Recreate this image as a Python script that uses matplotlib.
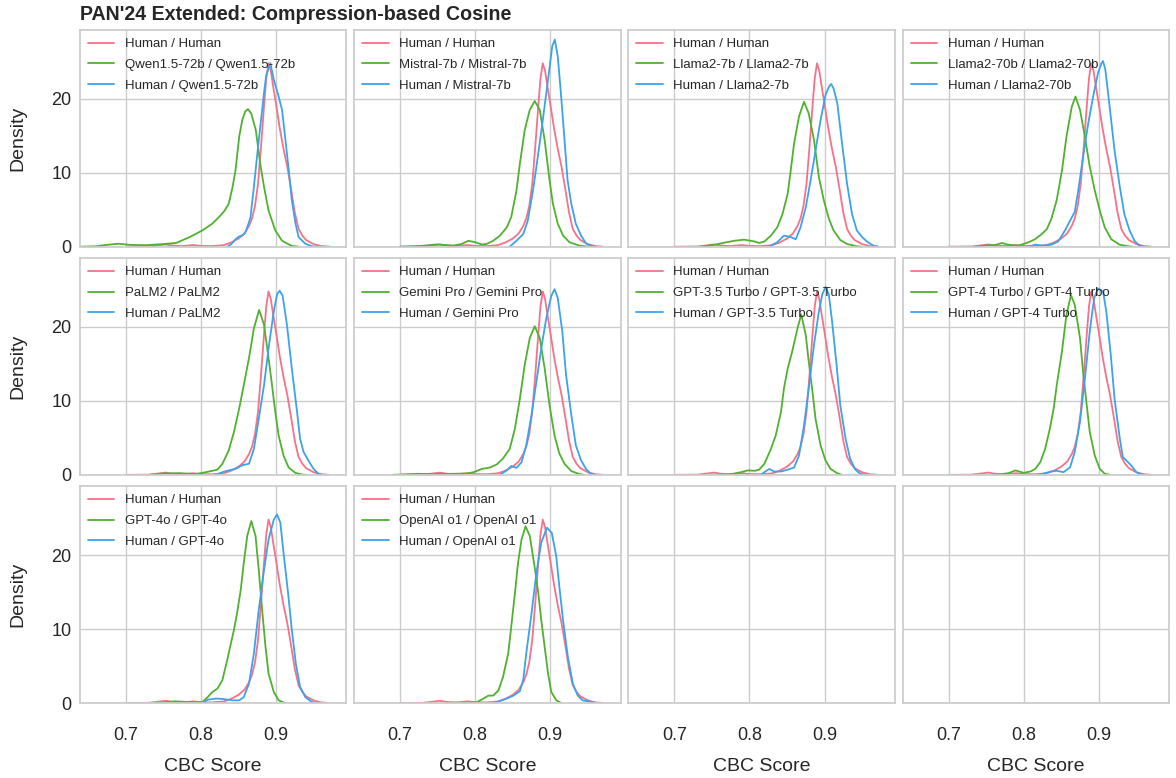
import matplotlib
matplotlib.use("Agg")
import matplotlib.pyplot as plt
import seaborn as sns

sns.set_style("whitegrid")
plt.rcParams["font.family"] = ["Liberation Sans", "DejaVu Sans"]

TITLE = "PAN'24 Extended: Compression-based Cosine"
models = ["Qwen1.5-72b", "Mistral-7b", "Llama2-7b", "Llama2-70b", "PaLM2",
          "Gemini Pro", "GPT-3.5 Turbo", "GPT-4 Turbo", "GPT-4o", "OpenAI o1"]
x_ticks = [0.7, 0.8, 0.9]
y_ticks = [0, 10, 20]

# density curves: (score, density)
human_human = [(0.700, 0.0), (0.730, 0.02), (0.745, 0.2), (0.753, 0.3), (0.762, 0.15), (0.775, 0.08),
               (0.790, 0.22), (0.800, 0.1), (0.815, 0.08), (0.830, 0.2), (0.840, 0.55), (0.850, 1.1),
               (0.858, 1.8), (0.864, 2.8), (0.868, 3.8), (0.872, 5.5), (0.876, 8.5), (0.880, 13.5),
               (0.884, 19.0), (0.887, 22.8), (0.890, 24.8), (0.893, 23.8), (0.896, 21.8), (0.900, 19.3),
               (0.905, 16.0), (0.910, 13.2), (0.915, 10.8), (0.920, 7.8), (0.925, 4.6), (0.930, 2.4),
               (0.935, 1.5), (0.940, 0.9), (0.950, 0.35), (0.960, 0.08), (0.970, 0.0)]

qwen_self = [(0.640, 0.0), (0.660, 0.05), (0.675, 0.25), (0.690, 0.4), (0.705, 0.25), (0.727, 0.2),
             (0.749, 0.35), (0.767, 0.5), (0.785, 1.3), (0.802, 2.2), (0.815, 3.1), (0.824, 4.0),
             (0.831, 4.8), (0.837, 5.8), (0.842, 8.0), (0.846, 10.3), (0.851, 14.9), (0.855, 17.1),
             (0.859, 18.3), (0.8626, 18.6), (0.867, 18.0), (0.873, 15.8), (0.879, 11.2), (0.884, 8.1),
             (0.890, 4.9), (0.899, 2.2), (0.908, 0.8), (0.921, 0.1), (0.930, 0.0)]
qwen_cross = [(0.835, 0.0), (0.840, 0.3), (0.846, 1.0), (0.851, 1.4), (0.855, 1.5), (0.859, 1.9),
              (0.863, 3.0), (0.866, 4.0), (0.870, 7.6), (0.874, 11.5), (0.877, 14.4), (0.881, 18.0),
              (0.884, 20.8), (0.887, 23.2), (0.8925, 24.8), (0.897, 22.6), (0.9035, 20.3), (0.908, 18.5),
              (0.912, 14.9), (0.917, 10.3), (0.921, 6.3), (0.926, 3.1), (0.930, 1.3), (0.939, 0.4),
              (0.948, 0.05), (0.955, 0.0)]

mistral_self = [(0.700, 0.0), (0.727, 0.1), (0.749, 0.3), (0.771, 0.15), (0.782, 0.36), (0.791, 0.8),
                (0.800, 0.6), (0.809, 0.3), (0.815, 0.36), (0.824, 0.8), (0.833, 1.5), (0.842, 2.6),
                (0.848, 4.0), (0.855, 7.6), (0.8595, 11.2), (0.866, 15.8), (0.8727, 18.5), (0.8793, 19.7),
                (0.886, 18.5), (0.8925, 14.4), (0.899, 9.0), (0.9035, 5.8), (0.910, 3.1), (0.917, 1.5),
                (0.9255, 0.6), (0.939, 0.14), (0.950, 0.0)]
mistral_cross = [(0.846, 0.0), (0.855, 0.8), (0.864, 1.7), (0.870, 3.5), (0.877, 7.6), (0.884, 12.6),
                 (0.890, 17.1), (0.897, 22.6), (0.9026, 27.1), (0.906, 28.0), (0.910, 25.7), (0.9145, 20.3),
                 (0.919, 14.4), (0.923, 9.0), (0.928, 5.8), (0.934, 3.1), (0.941, 1.5), (0.9475, 0.45),
                 (0.954, 0.05), (0.960, 0.0)]

llama7_self = [(0.735, 0.0), (0.740, 0.05), (0.754, 0.27), (0.767, 0.55), (0.780, 0.8), (0.793, 0.95),
               (0.807, 0.7), (0.813, 0.5), (0.820, 0.7), (0.8286, 1.5), (0.837, 2.6), (0.844, 4.4),
               (0.851, 7.2), (0.855, 10.3), (0.8595, 14.0), (0.866, 17.6), (0.8727, 19.6), (0.879, 18.0),
               (0.886, 14.4), (0.8925, 9.4), (0.899, 6.3), (0.9057, 3.8), (0.912, 2.2), (0.921, 0.9),
               (0.930, 0.36), (0.943, 0.05), (0.950, 0.0)]
llama7_cross = [(0.826, 0.0), (0.837, 0.6), (0.846, 1.5), (0.855, 1.3), (0.8617, 1.0), (0.868, 2.6),
                (0.875, 5.3), (0.8815, 9.0), (0.888, 13.0), (0.8947, 17.1), (0.9013, 20.5), (0.9057, 21.6),
                (0.9088, 22.0), (0.912, 21.4), (0.917, 19.4), (0.9233, 14.0), (0.930, 8.5), (0.9366, 4.4),
                (0.943, 2.2), (0.950, 1.3), (0.9564, 0.7), (0.965, 0.14), (0.972, 0.0)]

llama70_self = [(0.736, 0.0), (0.749, 0.15), (0.7626, 0.23), (0.771, 0.5), (0.778, 0.3), (0.785, 0.2),
                (0.793, 0.14), (0.8066, 0.6), (0.815, 1.0), (0.824, 1.7), (0.831, 2.4), (0.837, 3.8),
                (0.844, 6.3), (0.851, 10.3), (0.857, 14.9), (0.864, 18.9), (0.869, 20.3), (0.875, 18.5),
                (0.8815, 14.9), (0.888, 10.8), (0.8947, 7.6), (0.9013, 4.9), (0.908, 2.6), (0.9167, 1.0),
                (0.9278, 0.27), (0.939, 0.05), (0.945, 0.0)]
llama70_cross = [(0.806, 0.0), (0.8154, 0.27), (0.826, 0.15), (0.837, 0.27), (0.846, 0.7), (0.855, 2.2),
                 (0.8617, 3.5), (0.868, 4.7), (0.8727, 7.6), (0.879, 12.1), (0.886, 16.7), (0.8925, 20.3),
                 (0.899, 23.5), (0.9035, 24.8), (0.9057, 25.1), (0.9088, 23.9), (0.9145, 18.9), (0.921, 13.0),
                 (0.928, 8.1), (0.934, 4.4), (0.941, 2.2), (0.9475, 0.8), (0.954, 0.14), (0.960, 0.0)]

palm_self = [(0.732, 0.0), (0.749, 0.18), (0.771, 0.23), (0.793, 0.1), (0.8066, 0.36), (0.8154, 0.55),
             (0.822, 0.7), (0.8286, 1.5), (0.837, 3.3), (0.844, 5.8), (0.851, 9.0), (0.857, 12.1),
             (0.864, 15.8), (0.8705, 19.8), (0.8775, 22.3), (0.884, 20.3), (0.890, 15.8), (0.8947, 12.1),
             (0.899, 8.5), (0.9035, 5.3), (0.910, 2.6), (0.9167, 1.0), (0.9255, 0.27), (0.934, 0.05),
             (0.940, 0.0)]
palm_cross = [(0.820, 0.0), (0.8286, 0.36), (0.837, 0.6), (0.846, 0.8), (0.855, 1.3), (0.864, 1.5),
              (0.8705, 3.5), (0.877, 7.6), (0.884, 12.1), (0.890, 17.1), (0.897, 22.1), (0.9013, 24.4),
              (0.9048, 24.9), (0.9088, 24.2), (0.9145, 20.3), (0.921, 14.4), (0.928, 8.5), (0.932, 4.9),
              (0.9366, 3.1), (0.943, 1.95), (0.950, 0.8), (0.9564, 0.14), (0.962, 0.0)]

gemini_self = [(0.690, 0.0), (0.723, 0.14), (0.749, 0.1), (0.771, 0.14), (0.789, 0.18), (0.798, 0.36),
               (0.809, 0.8), (0.820, 1.0), (0.8286, 1.4), (0.837, 2.2), (0.846, 3.5), (0.853, 6.3),
               (0.8595, 10.3), (0.866, 14.9), (0.8727, 18.5), (0.8793, 20.1), (0.886, 18.5), (0.8925, 14.4),
               (0.899, 9.4), (0.9057, 5.3), (0.912, 2.9), (0.9189, 1.5), (0.928, 0.5), (0.939, 0.1),
               (0.945, 0.0)]
gemini_cross = [(0.833, 0.0), (0.842, 0.6), (0.848, 1.2), (0.855, 0.95), (0.8617, 1.7), (0.868, 4.0),
                (0.875, 8.1), (0.8815, 12.6), (0.888, 17.1), (0.8947, 21.2), (0.9013, 24.2), (0.9057, 25.1),
                (0.910, 23.9), (0.916, 19.4), (0.921, 13.5), (0.928, 8.1), (0.934, 4.0), (0.941, 1.95),
                (0.9475, 0.8), (0.954, 0.14), (0.960, 0.0)]

gpt35_self = [(0.760, 0.0), (0.776, 0.1), (0.789, 0.36), (0.798, 0.6), (0.807, 0.55), (0.813, 0.7),
              (0.820, 1.5), (0.8286, 3.5), (0.835, 5.3), (0.842, 8.5), (0.846, 11.7), (0.851, 14.4),
              (0.857, 16.7), (0.864, 19.8), (0.869, 21.7), (0.875, 18.9), (0.879, 15.3), (0.884, 11.2),
              (0.888, 7.6), (0.8947, 4.0), (0.9013, 1.95), (0.908, 0.8), (0.9167, 0.23), (0.923, 0.0)]
gpt35_cross = [(0.815, 0.0), (0.820, 0.36), (0.8264, 0.8), (0.833, 0.45), (0.842, 0.45), (0.851, 0.7),
               (0.8595, 1.0), (0.866, 2.6), (0.8727, 6.7), (0.879, 11.7), (0.886, 17.6), (0.8925, 22.1),
               (0.897, 24.4), (0.9013, 25.4), (0.9057, 24.4), (0.910, 20.8), (0.916, 14.9), (0.921, 9.4),
               (0.928, 4.9), (0.934, 2.2), (0.941, 0.7), (0.9475, 0.14), (0.955, 0.0)]

gpt4t_self = [(0.760, 0.0), (0.767, 0.05), (0.780, 0.23), (0.789, 0.6), (0.800, 0.27), (0.809, 0.45),
              (0.8154, 0.8), (0.822, 1.7), (0.8286, 3.5), (0.835, 6.3), (0.840, 9.0), (0.844, 12.1),
              (0.851, 16.7), (0.857, 21.7), (0.863, 24.3), (0.868, 23.0), (0.875, 18.5), (0.879, 14.0),
              (0.884, 9.4), (0.888, 5.8), (0.8947, 2.6), (0.9013, 0.8), (0.908, 0.14), (0.915, 0.0)]
gpt4t_cross = [(0.820, 0.0), (0.8286, 0.23), (0.837, 0.45), (0.844, 0.55), (0.853, 0.36), (0.8617, 1.0),
               (0.868, 3.1), (0.875, 7.2), (0.8815, 13.0), (0.888, 19.4), (0.8938, 23.9), (0.899, 25.2),
               (0.9057, 24.8), (0.910, 22.1), (0.916, 16.2), (0.921, 10.3), (0.928, 4.9), (0.932, 2.4),
               (0.9366, 1.95), (0.943, 1.3), (0.950, 0.36), (0.9564, 0.05), (0.962, 0.0)]

gpt4o_self = [(0.740, 0.0), (0.749, 0.05), (0.765, 0.23), (0.789, 0.1), (0.802, 0.14), (0.809, 0.8),
              (0.8154, 1.5), (0.822, 1.95), (0.8286, 3.1), (0.835, 5.8), (0.840, 8.1), (0.844, 9.9),
              (0.848, 12.1), (0.853, 15.3), (0.857, 18.9), (0.8617, 22.6), (0.867, 24.6), (0.8727, 22.6),
              (0.877, 18.0), (0.8815, 12.6), (0.886, 7.6), (0.890, 4.0), (0.897, 1.5), (0.9035, 0.36),
              (0.912, 0.0)]
gpt4o_cross = [(0.802, 0.0), (0.809, 0.45), (0.820, 0.6), (0.8286, 0.55), (0.842, 0.36), (0.851, 0.36),
               (0.857, 0.8), (0.864, 2.6), (0.8705, 6.7), (0.877, 12.6), (0.884, 18.0), (0.890, 22.1),
               (0.897, 24.8), (0.9013, 25.5), (0.9057, 24.4), (0.910, 20.3), (0.916, 14.9), (0.921, 9.9),
               (0.9264, 5.3), (0.932, 2.2), (0.939, 0.8), (0.9475, 0.14), (0.955, 0.0)]

o1_self = [(0.760, 0.0), (0.789, 0.05), (0.802, 0.1), (0.811, 0.6), (0.8176, 1.0), (0.824, 1.0),
           (0.831, 1.7), (0.837, 3.5), (0.844, 6.7), (0.848, 10.3), (0.853, 14.9), (0.857, 18.9),
           (0.8617, 22.1), (0.867, 23.9), (0.8727, 22.6), (0.879, 18.5), (0.884, 14.9), (0.888, 11.2),
           (0.8925, 7.6), (0.897, 4.0), (0.9013, 1.5), (0.908, 0.36), (0.9145, 0.0)]
o1_cross = [(0.825, 0.0), (0.833, 0.27), (0.842, 0.6), (0.851, 1.0), (0.8595, 1.6), (0.864, 3.1),
            (0.868, 6.7), (0.875, 12.1), (0.8815, 17.6), (0.888, 21.7), (0.8956, 23.7), (0.902, 23.0),
            (0.908, 19.8), (0.912, 15.8), (0.917, 11.2), (0.9233, 6.3), (0.930, 2.6), (0.9366, 1.0),
            (0.943, 0.36), (0.950, 0.23), (0.956, 0.1), (0.963, 0.0)]

self_curves = [qwen_self, mistral_self, llama7_self, llama70_self, palm_self,
               gemini_self, gpt35_self, gpt4t_self, gpt4o_self, o1_self]
cross_curves = [qwen_cross, mistral_cross, llama7_cross, llama70_cross, palm_cross,
                gemini_cross, gpt35_cross, gpt4t_cross, gpt4o_cross, o1_cross]

colors = sns.husl_palette(3)
W, H = 1176, 778
fig, axes = plt.subplots(3, 4, figsize=(W / 100, H / 100), dpi=100, sharex=True, sharey=True)
fig.subplots_adjust(left=80 / W, right=1169 / W, top=1 - 30 / H, bottom=1 - 703 / H,
                    wspace=0.030, hspace=0.053)


def plot_curve(ax, pts, color, label):
    xs = [p[0] for p in pts]
    ys = [p[1] for p in pts]
    ax.plot(xs, ys, color=color, lw=1.3, label=label)


for i, ax in enumerate(axes.flat):
    for s in ax.spines.values():
        s.set_color(".8")
        s.set_linewidth(1.25)
    ax.grid(True, color=".8", lw=1.0)
    ax.tick_params(axis="both", length=0, labelsize=13, colors=".15")
    ax.tick_params(axis="x", pad=17)
    ax.tick_params(axis="y", pad=6)
    if i < len(models):
        m = models[i]
        plot_curve(ax, human_human, colors[0], "Human / Human")
        plot_curve(ax, self_curves[i], colors[1], f"{m} / {m}")
        plot_curve(ax, cross_curves[i], colors[2], f"Human / {m}")
        ax.legend(loc="upper left", frameon=False, fontsize=9.5, handlelength=2.0,
                  borderaxespad=0.2, labelspacing=0.65, handletextpad=0.8)

axes[0, 0].set_xlim(0.639, 0.9935)
axes[0, 0].set_ylim(0, 29.3)
axes[0, 0].set_xticks(x_ticks)
axes[0, 0].set_yticks(y_ticks)
axes[0, 0].set_xticklabels([f"{t:.1f}" for t in x_ticks])

for r in range(3):
    axes[r, 0].set_ylabel("Density", fontsize=14, color=".15", labelpad=18)
for c in range(4):
    axes[2, c].set_xlabel("CBC Score", fontsize=14, color=".15", labelpad=10)

fig.text(80 / W, 1 - 20 / H, TITLE, fontsize=14.1, fontweight="bold", ha="left",
         va="baseline", color=".15")

fig.savefig("out.png", dpi=100)
